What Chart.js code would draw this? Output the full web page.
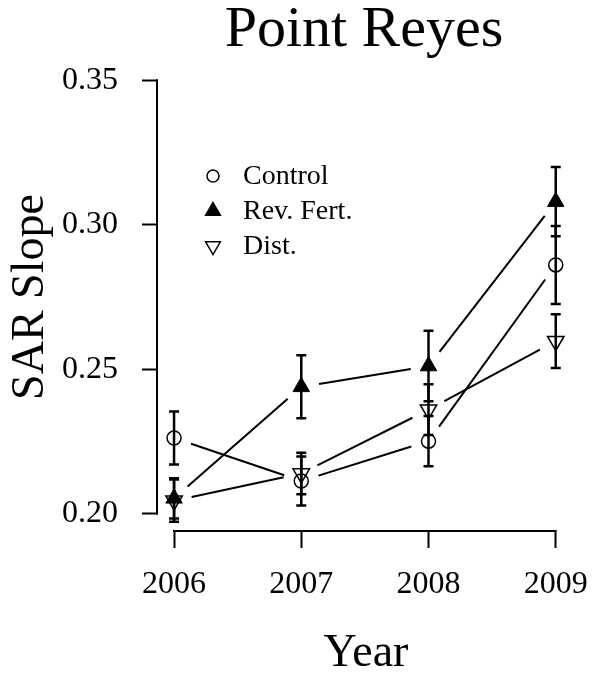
<!DOCTYPE html>
<html>
<head>
<meta charset="utf-8">
<script src="https://cdn.jsdelivr.net/npm/chart.js@4/dist/chart.umd.min.js"></script>
<style>
  body { margin: 0; background: #fff; }
  canvas { display: block; }
</style>
</head>
<body>
<canvas id="chart" width="593" height="676"></canvas>
<script>
  'use strict';

  // Data
  const years = [2006, 2007, 2008, 2009];
  const yTicks = [0.20, 0.25, 0.30, 0.35];

  const control = [0.2262, 0.2113, 0.2251, 0.2861];
  const controlErr = [0.0092, 0.0085, 0.0087, 0.0135];

  const revFert = [0.2053, 0.2439, 0.2511, 0.3080];
  const revFertErr = [0.0070, 0.0109, 0.0122, 0.0120];

  const dist = [0.2045, 0.2139, 0.2360, 0.2597];
  const distErr = [0.0073, 0.0072, 0.0088, 0.0093];

  const serif = "'Liberation Serif', 'Times New Roman', serif";

  function toPoints(vals) {
    return years.map((x, i) => ({ x: x, y: vals[i] }));
  }

  // R style "b" lines: segments between points, with a gap round each marker
  const gapLines = {
    id: 'gapLines',
    beforeDatasetsDraw(chart) {
      const ctx = chart.ctx;
      const gap = 18;
      ctx.save();
      ctx.strokeStyle = '#000';
      ctx.lineWidth = 2;
      chart.data.datasets.forEach((ds, i) => {
        const pts = chart.getDatasetMeta(i).data;
        for (let k = 0; k < pts.length - 1; k++) {
          const a = pts[k], b = pts[k + 1];
          const dx = b.x - a.x, dy = b.y - a.y;
          const d = Math.sqrt(dx * dx + dy * dy);
          if (d <= gap * 2) continue;
          const ux = dx / d, uy = dy / d;
          ctx.beginPath();
          ctx.moveTo(a.x + ux * gap, a.y + uy * gap);
          ctx.lineTo(b.x - ux * gap, b.y - uy * gap);
          ctx.stroke();
        }
      });
      ctx.restore();
    }
  };

  // Error bars with small caps
  const errorBars = {
    id: 'errorBars',
    beforeDatasetsDraw(chart) {
      const ctx = chart.ctx;
      const yScale = chart.scales.y;
      const cap = 5;
      ctx.save();
      ctx.strokeStyle = '#000';
      ctx.lineWidth = 2.5;
      chart.data.datasets.forEach((ds, i) => {
        const pts = chart.getDatasetMeta(i).data;
        pts.forEach((p, k) => {
          const v = ds.data[k].y;
          const top = yScale.getPixelForValue(v + ds.err[k]);
          const bot = yScale.getPixelForValue(v - ds.err[k]);
          ctx.beginPath();
          ctx.moveTo(p.x, top);
          ctx.lineTo(p.x, bot);
          ctx.moveTo(p.x - cap, top);
          ctx.lineTo(p.x + cap, top);
          ctx.moveTo(p.x - cap, bot);
          ctx.lineTo(p.x + cap, bot);
          ctx.stroke();
        });
      });
      ctx.restore();
    }
  };

  // Axis lines only over the tick range, plus the titles and the legend
  const decorations = {
    id: 'decorations',
    afterDraw(chart) {
      const ctx = chart.ctx;
      const area = chart.chartArea;
      const xs = chart.scales.x, ys = chart.scales.y;
      ctx.save();
      ctx.strokeStyle = '#000';
      ctx.lineWidth = 2;
      ctx.beginPath();
      ctx.moveTo(xs.getPixelForValue(years[0]) - 1, area.bottom);
      ctx.lineTo(xs.getPixelForValue(years[years.length - 1]) + 1, area.bottom);
      ctx.moveTo(area.left, ys.getPixelForValue(yTicks[0]) + 1);
      ctx.lineTo(area.left, ys.getPixelForValue(yTicks[yTicks.length - 1]) - 1);
      ctx.stroke();

      ctx.fillStyle = '#000';
      ctx.textAlign = 'center';
      ctx.textBaseline = 'alphabetic';
      ctx.font = '58px ' + serif;
      ctx.fillText('Point Reyes', 364, 46);
      ctx.font = '46px ' + serif;
      ctx.fillText('Year', 366, 666);

      ctx.save();
      ctx.translate(43, 297);
      ctx.rotate(-Math.PI / 2);
      ctx.fillText('SAR Slope', 0, 0);
      ctx.restore();

      // legend
      ctx.font = '28px ' + serif;
      ctx.textAlign = 'left';
      ctx.textBaseline = 'middle';
      chart.data.datasets.forEach((ds, i) => {
        const y = 176 + i * 35;
        ctx.strokeStyle = '#000';
        ctx.fillStyle = ds.pointBackgroundColor;
        ctx.lineWidth = 1.5;
        Chart.helpers.drawPoint(ctx, {
          pointStyle: ds.pointStyle,
          rotation: ds.rotation || 0,
          radius: ds.pointStyle === 'circle' ? 6 : 8.5,
          borderWidth: 1.5
        }, 213, y);
        ctx.fillStyle = '#000';
        ctx.fillText(ds.label, 243, y + 1);
      });
      ctx.restore();
    }
  };

  new Chart(document.getElementById('chart'), {
    type: 'line',
    data: {
      datasets: [
        {
          label: 'Control',
          data: toPoints(control),
          err: controlErr,
          showLine: false,
          pointStyle: 'circle',
          pointRadius: 7,
          pointBorderWidth: 1.5,
          pointBorderColor: '#000',
          pointBackgroundColor: 'rgba(0,0,0,0)'
        },
        {
          label: 'Rev. Fert.',
          data: toPoints(revFert),
          err: revFertErr,
          showLine: false,
          pointStyle: 'triangle',
          pointRadius: 9.5,
          pointBorderWidth: 1,
          pointBorderColor: '#000',
          pointBackgroundColor: '#000'
        },
        {
          label: 'Dist.',
          data: toPoints(dist),
          err: distErr,
          showLine: false,
          pointStyle: 'triangle',
          rotation: 180,
          pointRotation: 180,
          pointRadius: 9.5,
          pointBorderWidth: 1.5,
          pointBorderColor: '#000',
          pointBackgroundColor: 'rgba(0,0,0,0)'
        }
      ]
    },
    options: {
      responsive: false,
      animation: false,
      devicePixelRatio: 1,
      layout: { padding: { top: 63, right: 22, left: 0, bottom: 0 } },
      plugins: {
        legend: { display: false },
        tooltip: { enabled: false }
      },
      scales: {
        x: {
          type: 'linear',
          min: 2005.866,
          max: 2009.12,
          afterBuildTicks: s => { s.ticks = years.map(v => ({ value: v })); },
          afterFit: s => {
            s.height = 145;
            s.paddingLeft = 0;
            s.paddingRight = 0;
          },
          border: { display: false },
          grid: {
            drawOnChartArea: false,
            drawTicks: true,
            tickLength: 17,
            tickColor: '#000',
            tickWidth: 2
          },
          ticks: {
            callback: v => String(v),
            color: '#000',
            font: { family: serif, size: 32 },
            padding: 17,
            maxRotation: 0,
            autoSkip: false
          }
        },
        y: {
          min: 0.194,
          max: 0.356,
          afterBuildTicks: s => { s.ticks = yTicks.map(v => ({ value: v })); },
          afterFit: s => {
            s.width = 157;
            s.paddingTop = 0;
            s.paddingBottom = 0;
          },
          border: { display: false },
          grid: {
            drawOnChartArea: false,
            drawTicks: true,
            tickLength: 15,
            tickColor: '#000',
            tickWidth: 2
          },
          ticks: {
            callback: v => v.toFixed(2),
            color: '#000',
            font: { family: serif, size: 32 },
            padding: 24,
            autoSkip: false
          }
        }
      }
    },
    plugins: [gapLines, errorBars, decorations]
  });
</script>
</body>
</html>
